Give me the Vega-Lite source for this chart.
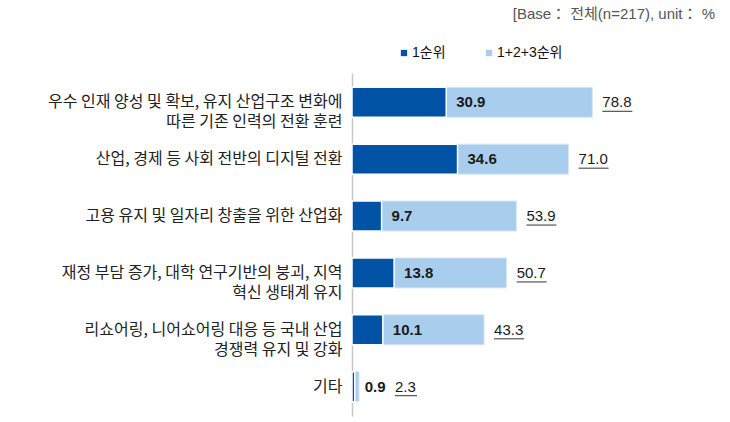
{
  "$schema": "https://vega.github.io/schema/vega-lite/v6.json",
  "width": 305,
  "height": 343,
  "autosize": {"type": "none"},
  "padding": {"left": 352, "top": 73, "right": 73, "bottom": 6},
  "background": "white",
  "config": {
    "view": {"stroke": null},
    "font": "Liberation Sans, Noto Sans CJK KR"
  },
  "title": {
    "text": "[Base： 전체(n=217), unit： %",
    "anchor": "end",
    "dx": 58,
    "offset": 9,
    "baseline": "bottom",
    "fontSize": 15,
    "fontWeight": "normal",
    "color": "#555555",
    "font": "Liberation Sans, Noto Sans CJK KR"
  },
  "data": {
    "values": [
      {"item": "우수 인재 양성 및 확보, 유지 산업구조 변화에\n따른 기존 인력의 전환 훈련", "first": 30.9, "total": 78.8},
      {"item": "산업, 경제 등 사회 전반의 디지털 전환", "first": 34.6, "total": 71.0},
      {"item": "고용 유지 및 일자리 창출을 위한 산업화", "first": 9.7, "total": 53.9},
      {"item": "재정 부담 증가, 대학 연구기반의 붕괴, 지역\n혁신 생태계 유지", "first": 13.8, "total": 50.7},
      {"item": "리쇼어링, 니어쇼어링 대응 등 국내 산업\n경쟁력 유지 및 강화", "first": 10.1, "total": 43.3},
      {"item": "기타", "first": 0.9, "total": 2.3}
    ]
  },
  "encoding": {
    "y": {
      "field": "item",
      "type": "nominal",
      "sort": null,
      "scale": {"paddingInner": 0.47, "paddingOuter": 0.25},
      "axis": {
        "title": null,
        "labelExpr": "split(datum.value, '\\n')",
        "domain": true,
        "domainColor": "#c8c8c8",
        "domainWidth": 1.5,
        "ticks": false,
        "labelPadding": 10,
        "labelFontSize": 16,
        "labelFont": "Noto Sans CJK KR",
        "labelColor": "#222222",
        "labelLineHeight": 20,
        "labelLimit": 400
      }
    }
  },
  "layer": [
    {
      "mark": {"type": "bar", "size": 30, "stroke": "#d6e7f6", "strokeWidth": 1},
      "encoding": {
        "x": {"field": "total", "type": "quantitative", "scale": {"domain": [0, 100]}, "axis": null},
        "color": {
          "datum": "1+2+3순위",
          "type": "nominal",
          "scale": {"domain": ["1순위", "1+2+3순위"], "range": ["#0052A4", "#A9CDEC"]},
          "legend": {
            "title": null,
            "orient": "none",
            "legendX": 45,
            "legendY": -27,
            "direction": "horizontal",
            "symbolType": "square",
            "symbolSize": 40,
            "symbolStrokeWidth": 0,
            "labelFontSize": 14,
            "labelColor": "#111111",
            "labelOffset": 1,
            "columnPadding": 36,
            "labelFont": "Liberation Sans, Noto Sans CJK KR"
          }
        }
      }
    },
    {
      "mark": {"type": "bar", "size": 30, "stroke": "white", "strokeWidth": 1.5},
      "encoding": {
        "x": {"field": "first", "type": "quantitative"},
        "color": {"datum": "1순위", "type": "nominal"}
      }
    },
    {
      "mark": {"type": "text", "align": "left", "baseline": "middle", "dx": 10, "fontSize": 15, "fontWeight": "bold", "color": "#1a1a1a"},
      "encoding": {
        "x": {"field": "first", "type": "quantitative"},
        "text": {"field": "first", "type": "quantitative", "format": ".1f"}
      }
    },
    {
      "transform": [{"filter": "datum.total >= 10"}],
      "mark": {"type": "text", "align": "left", "baseline": "middle", "dx": 10, "fontSize": 15, "color": "#1a1a1a"},
      "encoding": {
        "x": {"field": "total", "type": "quantitative"},
        "text": {"field": "total", "type": "quantitative", "format": ".1f"}
      }
    },
    {
      "transform": [{"filter": "datum.total < 10"}],
      "mark": {"type": "text", "align": "left", "baseline": "middle", "dx": 36, "fontSize": 15, "color": "#1a1a1a"},
      "encoding": {
        "x": {"field": "total", "type": "quantitative"},
        "text": {"field": "total", "type": "quantitative", "format": ".1f"}
      }
    },
    {
      "transform": [{"filter": "datum.total >= 10"}],
      "mark": {"type": "rule", "color": "#333333", "strokeWidth": 1, "xOffset": 10, "x2Offset": 40, "yOffset": 9},
      "encoding": {
        "x": {"field": "total", "type": "quantitative"},
        "x2": {"field": "total"}
      }
    },
    {
      "transform": [{"filter": "datum.total < 10"}],
      "mark": {"type": "rule", "color": "#333333", "strokeWidth": 1, "xOffset": 36, "x2Offset": 58, "yOffset": 9},
      "encoding": {
        "x": {"field": "total", "type": "quantitative"},
        "x2": {"field": "total"}
      }
    }
  ]
}
